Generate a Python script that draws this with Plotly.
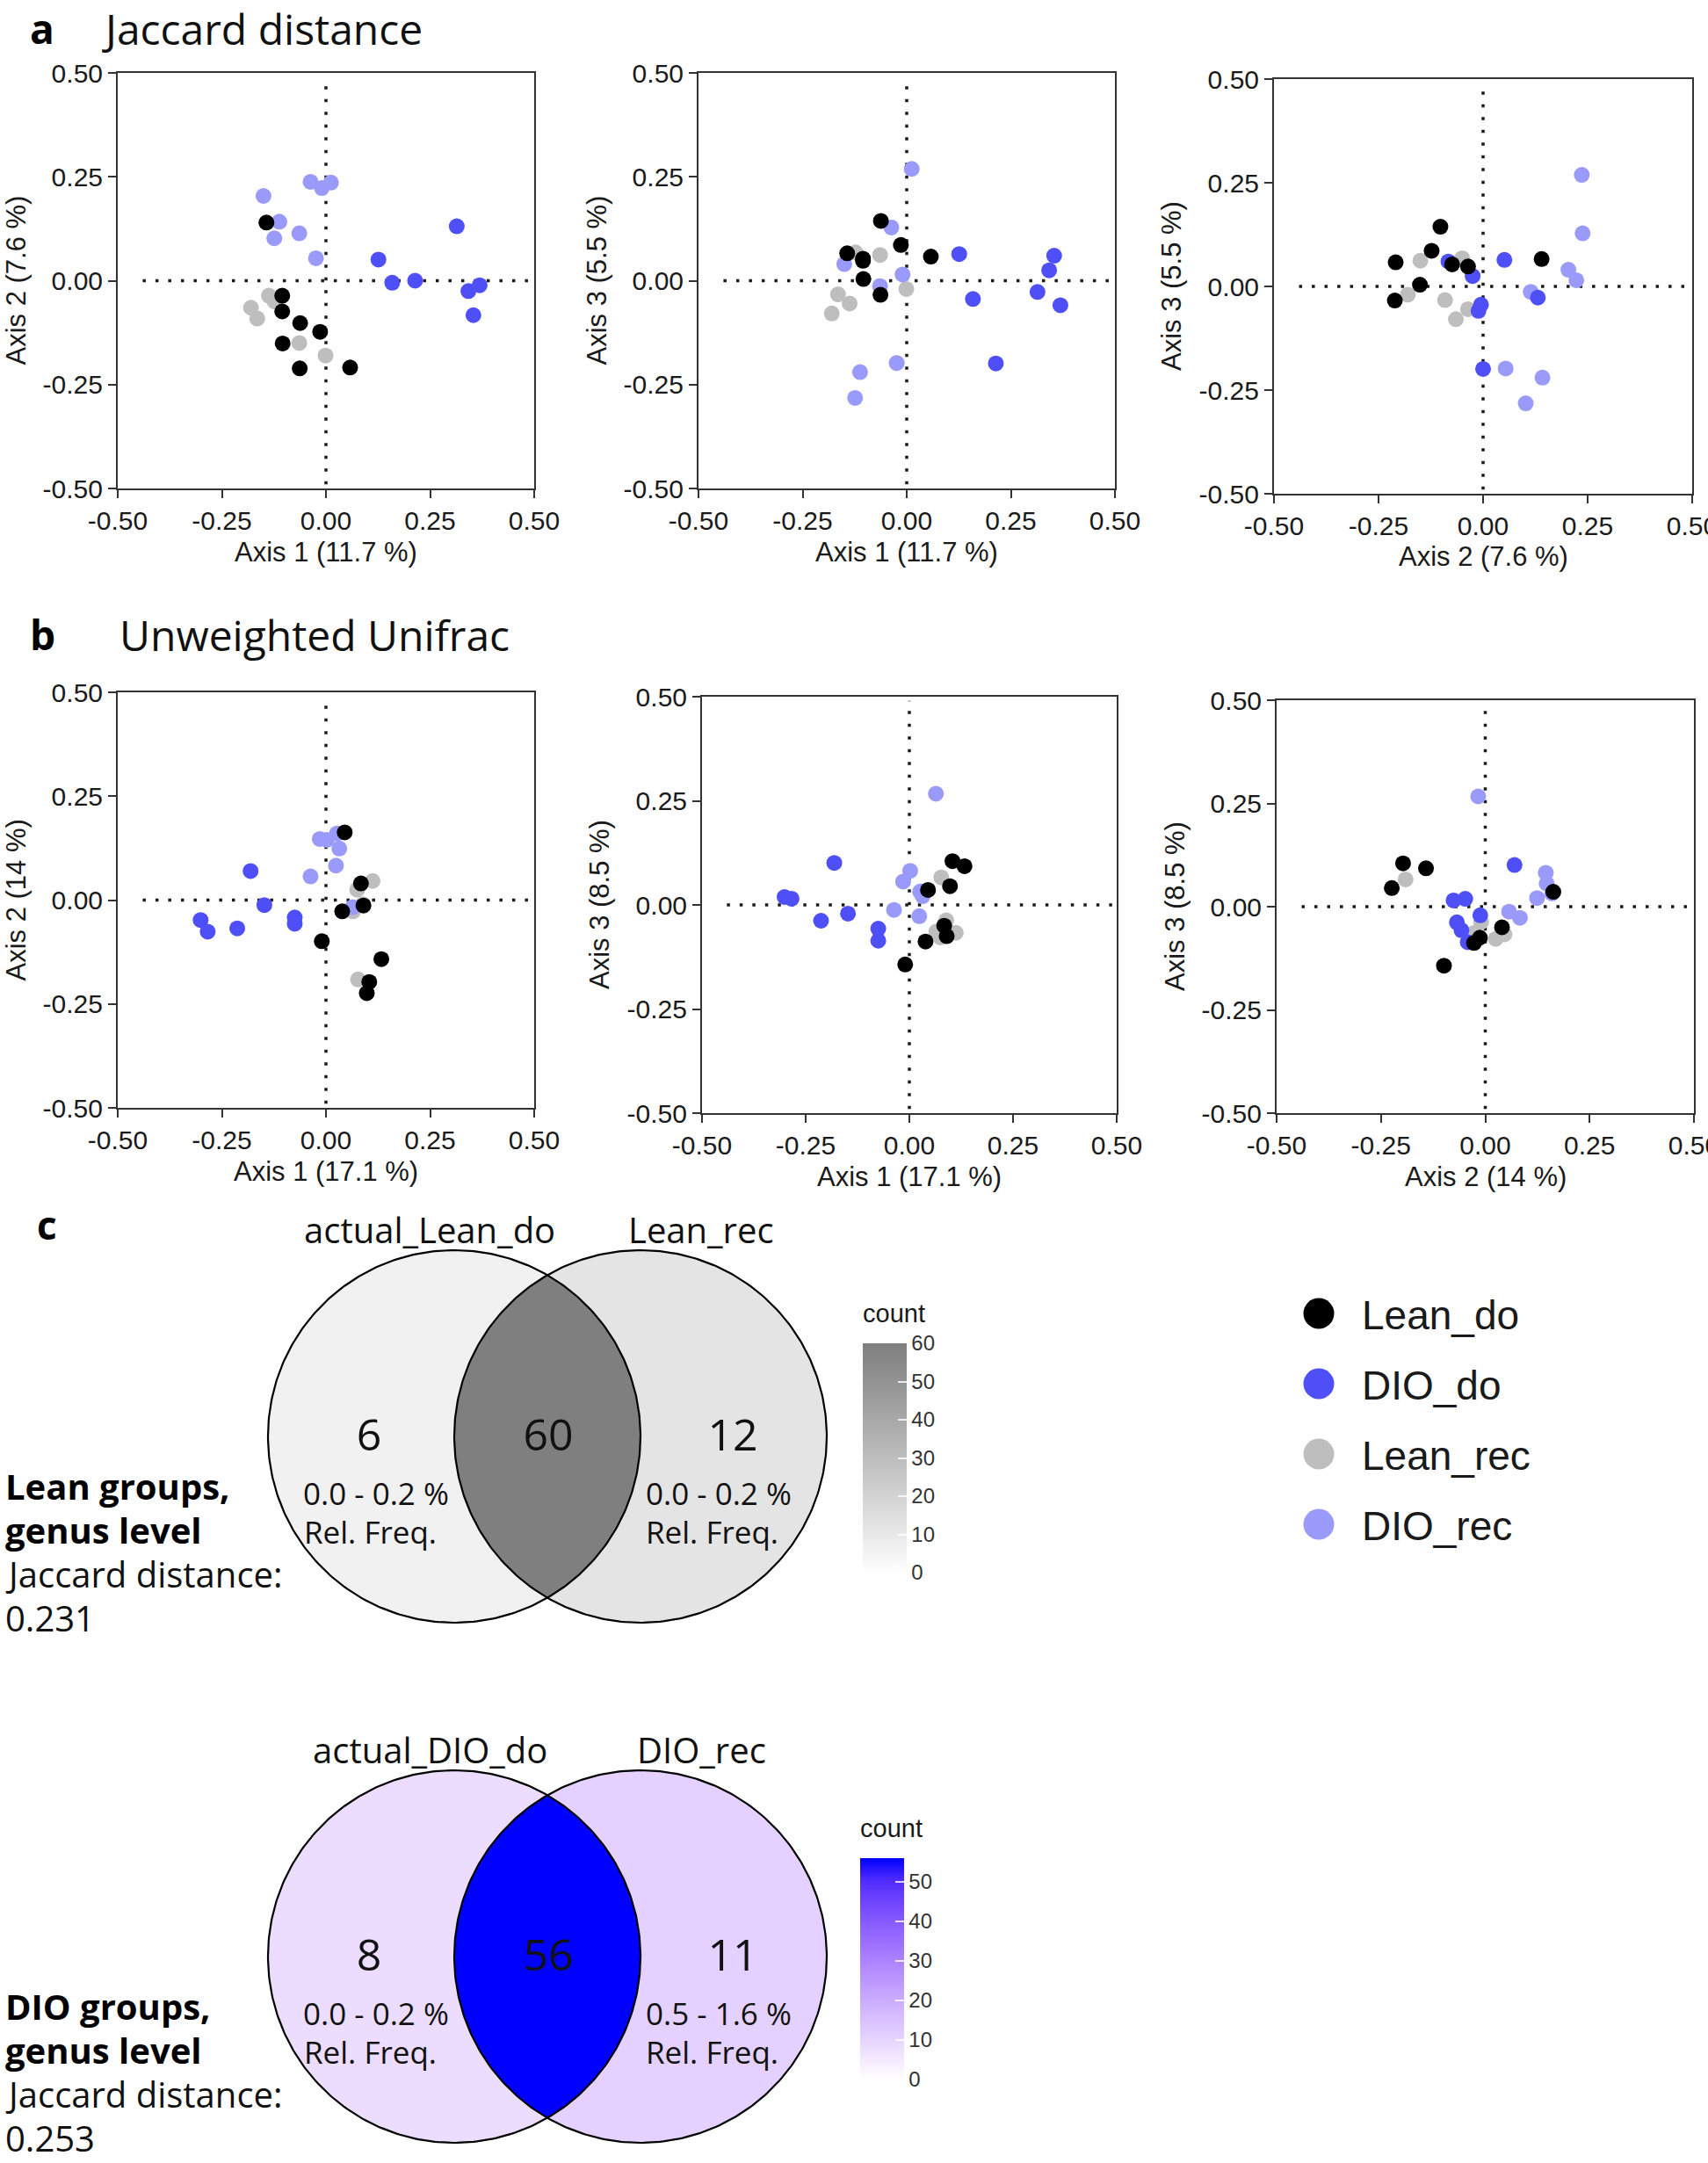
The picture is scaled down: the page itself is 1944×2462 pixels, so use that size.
import numpy as np
import plotly.graph_objects as go

W, H = 1944, 2462

# ---------------- data ----------------
groups = ["Lean_do", "DIO_do", "Lean_rec", "DIO_rec"]
group_colors = ["#000000", "#4f4ff8", "#bebebe", "#9a9afa"]
draw_order = ["Lean_rec", "DIO_rec", "DIO_do", "Lean_do"]

# Jaccard PCoA sample coordinates (Axis 1, Axis 2, Axis 3)
jac_lean_do_ax1 = [-0.143, -0.105, -0.105, -0.062, -0.014, -0.104, -0.063, 0.058]
jac_lean_do_ax2 = [0.140, -0.036, -0.074, -0.102, -0.123, -0.151, -0.211, -0.209]
jac_lean_do_ax3 = [0.066, 0.048, 0.053, 0.144, 0.086, 0.004, -0.034, 0.058]

jac_dio_do_ax1 = [0.314, 0.126, 0.159, 0.214, 0.342, 0.369, 0.354]
jac_dio_do_ax2 = [0.131, 0.051, -0.005, 0.000, -0.025, -0.011, -0.083]
jac_dio_do_ax3 = [-0.027, 0.064, -0.044, -0.199, 0.025, -0.059, 0.060]

jac_lean_rec_ax1 = [-0.137, -0.180, -0.165, -0.123, -0.064, -0.001]
jac_lean_rec_ax2 = [-0.036, -0.065, -0.091, -0.050, -0.150, -0.180]
jac_lean_rec_ax3 = [-0.055, -0.079, -0.033, 0.068, 0.062, -0.020]

jac_dio_rec_ax1 = [-0.150, -0.037, -0.010, 0.012, -0.112, -0.124, -0.064, -0.024]
jac_dio_rec_ax2 = [0.204, 0.238, 0.223, 0.236, 0.142, 0.102, 0.114, 0.054]
jac_dio_rec_ax3 = [0.040, 0.128, 0.015, 0.269, -0.220, -0.282, -0.013, -0.198]

# Unweighted Unifrac PCoA sample coordinates
uni_lean_do_ax1 = [0.045, 0.084, 0.090, 0.039, -0.010, 0.133, 0.104, 0.098]
uni_lean_do_ax2 = [0.163, 0.040, -0.013, -0.027, -0.099, -0.142, -0.197, -0.224]
uni_lean_do_ax3 = [0.036, -0.050, -0.075, -0.088, -0.143, 0.093, 0.105, 0.045]

uni_dio_do_ax1 = [-0.181, -0.148, -0.075, -0.075, -0.301, -0.284, -0.213]
uni_dio_do_ax2 = [0.070, -0.012, -0.042, -0.057, -0.048, -0.076, -0.068]
uni_dio_do_ax3 = [0.101, -0.021, -0.086, -0.057, 0.019, 0.015, -0.038]

uni_lean_rec_ax1 = [0.077, 0.112, 0.065, 0.089, 0.075]
uni_lean_rec_ax2 = [-0.191, 0.046, -0.027, -0.010, 0.025]
uni_lean_rec_ax3 = [0.066, -0.067, -0.064, -0.037, -0.078]

uni_dio_rec_ax1 = [0.026, -0.015, 0.002, 0.032, 0.024, -0.037, 0.064]
uni_dio_rec_ax2 = [0.160, 0.147, 0.145, 0.124, 0.083, 0.057, -0.017]
uni_dio_rec_ax3 = [0.032, 0.056, 0.082, 0.021, -0.027, -0.012, 0.267]

jac_pct = [11.7, 7.6, 5.5]
uni_pct = [17.1, 14, 8.5]

tick_vals = [-0.5, -0.25, 0.0, 0.25, 0.5]
tick_text = ["-0.50", "-0.25", "0.00", "0.25", "0.50"]

# Venn data
lean_sets = ["actual_Lean_do", "Lean_rec"]
lean_counts = [6, 60, 12]           # only A, A&B, only B
lean_freq = ["0.0 - 0.2 %", "0.0 - 0.2 %"]
lean_jacc = 0.231
lean_cbar_max = 60

dio_sets = ["actual_DIO_do", "DIO_rec"]
dio_counts = [8, 56, 11]
dio_freq = ["0.0 - 0.2 %", "0.5 - 1.6 %"]
dio_jacc = 0.253
dio_cbar_max = 56

cbar_ticks_lean = [0, 10, 20, 30, 40, 50, 60]
cbar_ticks_dio = [0, 10, 20, 30, 40, 50]

# ---------------- helpers ----------------
coords = {
    "jac": {
        "Lean_do": [jac_lean_do_ax1, jac_lean_do_ax2, jac_lean_do_ax3],
        "DIO_do": [jac_dio_do_ax1, jac_dio_do_ax2, jac_dio_do_ax3],
        "Lean_rec": [jac_lean_rec_ax1, jac_lean_rec_ax2, jac_lean_rec_ax3],
        "DIO_rec": [jac_dio_rec_ax1, jac_dio_rec_ax2, jac_dio_rec_ax3],
    },
    "uni": {
        "Lean_do": [uni_lean_do_ax1, uni_lean_do_ax2, uni_lean_do_ax3],
        "DIO_do": [uni_dio_do_ax1, uni_dio_do_ax2, uni_dio_do_ax3],
        "Lean_rec": [uni_lean_rec_ax1, uni_lean_rec_ax2, uni_lean_rec_ax3],
        "DIO_rec": [uni_dio_rec_ax1, uni_dio_rec_ax2, uni_dio_rec_ax3],
    },
}
pcts = {"jac": jac_pct, "uni": uni_pct}
color_of = dict(zip(groups, group_colors))


def _lin(c):
    c = c / 255.0
    return np.where(c <= 0.04045, c / 12.92, ((c + 0.055) / 1.055) ** 2.4)


def _delin(c):
    c = np.where(c <= 0.0031308, 12.92 * c, 1.055 * np.clip(c, 0, None) ** (1 / 2.4) - 0.055)
    return np.clip(np.round(c * 255), 0, 255).astype(int)


M = np.array([[0.4124, 0.3576, 0.1805], [0.2126, 0.7152, 0.0722], [0.0193, 0.1192, 0.9505]])
Minv = np.linalg.inv(M)
WHITE = np.array([0.95047, 1.0, 1.08883])


def hex2lab(h):
    rgb = np.array([int(h[i:i + 2], 16) for i in (1, 3, 5)], float)
    xyz = M @ _lin(rgb) / WHITE
    f = np.where(xyz > 0.008856, np.cbrt(xyz), 7.787 * xyz + 16 / 116)
    return np.array([116 * f[1] - 16, 500 * (f[0] - f[1]), 200 * (f[1] - f[2])])


def lab2hex(lab):
    fy = (lab[0] + 16) / 116
    fx = fy + lab[1] / 500
    fz = fy - lab[2] / 200
    f = np.array([fx, fy, fz])
    xyz = np.where(f ** 3 > 0.008856, f ** 3, (f - 16 / 116) / 7.787) * WHITE
    rgb = _delin(Minv @ xyz)
    return "#%02x%02x%02x" % tuple(rgb)


def lab_mix(c0, c1, t):
    return lab2hex(hex2lab(c0) + (hex2lab(c1) - hex2lab(c0)) * t)


def lab_scale(c0, c1, n=11):
    return [[float(t), lab_mix(c0, c1, t)] for t in np.linspace(0, 1, n)]


FONT_AX = "Liberation Sans"
FONT_TX = "Open Sans"

fig = go.Figure()
layout = dict(
    width=W, height=H, margin=dict(l=0, r=0, t=0, b=0, pad=0, autoexpand=False), autosize=False,
    paper_bgcolor="white", plot_bgcolor="rgba(0,0,0,0)", showlegend=False,
    font=dict(family=FONT_AX, color="#1a1a1a"),
)
annotations = []
shapes = []

# panels: metric, x-axis index, y-axis index, plot box (px)
panels = [
    ("jac", 0, 1, (134, 608, 83, 556)),
    ("jac", 0, 2, (795, 1269, 83, 556)),
    ("jac", 1, 2, (1450, 1926, 90, 562)),
    ("uni", 0, 1, (134, 608, 788, 1261)),
    ("uni", 0, 2, (799, 1271, 793, 1267)),
    ("uni", 1, 2, (1453, 1928, 797, 1267)),
]

for k, (metric, ix, iy, (x0, x1, y0, y1)) in enumerate(panels):
    n = "" if k == 0 else str(k + 1)
    axcommon = dict(
        range=[-0.5, 0.5], tickvals=tick_vals, ticktext=tick_text, showgrid=False, zeroline=False,
        showline=True, mirror=True, linecolor="#333333", linewidth=2, ticks="outside", ticklen=9,
        tickwidth=2, tickcolor="#333333", tickfont=dict(size=30, family=FONT_AX, color="#1a1a1a"),
        fixedrange=True, automargin=False, ticklabeloverflow="allow",
    )
    layout["xaxis" + n] = dict(axcommon, domain=[x0 / W, x1 / W], anchor="y" + n)
    layout["yaxis" + n] = dict(axcommon, domain=[1 - y1 / H, 1 - y0 / H], anchor="x" + n)
    for g in draw_order:
        c = coords[metric][g]
        fig.add_trace(go.Scatter(
            x=c[ix], y=c[iy], mode="markers", xaxis="x" + n, yaxis="y" + n,
            marker=dict(size=18, color=color_of[g], line=dict(width=0)), name=g,
            hoverinfo="skip",
        ))
    dot = dict(color="#1a1a1a", width=3.5, dash="3.5px,11px")
    shapes.append(dict(type="line", xref="x" + n, yref="y" + n, x0=0, x1=0, y0=-0.49, y1=0.49,
                       line=dot, layer="below"))
    shapes.append(dict(type="line", xref="x" + n, yref="y" + n, x0=-0.44, x1=0.5, y0=0, y1=0,
                       line=dot, layer="below"))
    pc = pcts[metric]
    annotations.append(dict(
        text=f"Axis {ix + 1} ({pc[ix]:g} %)", xref="paper", yref="paper",
        x=(x0 + x1) / 2 / W, y=1 - (y1 + 72) / H, showarrow=False,
        font=dict(size=31, family=FONT_AX, color="#1a1a1a"), xanchor="center", yanchor="middle"))
    annotations.append(dict(
        text=f"Axis {iy + 1} ({pc[iy]:g} %)", xref="paper", yref="paper",
        x=(x0 - 116) / W, y=1 - (y0 + y1) / 2 / H, showarrow=False, textangle=-90,
        font=dict(size=31, family=FONT_AX, color="#1a1a1a"), xanchor="center", yanchor="middle"))

# pixel overlay axis for the Venn diagrams and legend
layout["xaxis7"] = dict(domain=[0, 1], range=[0, W], visible=False, fixedrange=True, anchor="y7")
layout["yaxis7"] = dict(domain=[0, 1], range=[H, 0], visible=False, fixedrange=True, anchor="x7")


def ann_px(text, x, y, size, family=FONT_TX, xanchor="center", bold=False, color="#111111"):
    annotations.append(dict(
        text=f"<b>{text}</b>" if bold else text, x=x, y=y, xref="x7", yref="y7", showarrow=False,
        xanchor=xanchor, yanchor="middle", font=dict(size=size, family=family, color=color)))


# panel titles
ann_px("a", 32, 32, 46, bold=True, xanchor="left", color="#000000")
ann_px("Jaccard distance", 114, 32, 48, xanchor="left", color="#111111")
ann_px("b", 32, 722, 46, bold=True, xanchor="left", color="#000000")
ann_px("Unweighted Unifrac", 134, 722, 48, xanchor="left", color="#111111")
ann_px("c", 40, 1394, 44, bold=True, xanchor="left", color="#000000")


def venn(sets, counts, freq, jacc, label, cy, c_hi, cmax, cticks, cbar_top, cbar_x, per10):
    r = 212.0
    cx1, cx2 = 517.0, 729.0
    scale = lab_scale("#ffffff", c_hi)
    fills = [lab_mix("#ffffff", c_hi, v / cmax) for v in counts]
    th = np.linspace(0, 2 * np.pi, 361)
    for cx, fc in ((cx1, fills[0]), (cx2, fills[2])):
        fig.add_trace(go.Scatter(x=cx + r * np.cos(th), y=cy + r * np.sin(th), mode="lines",
                                 fill="toself", fillcolor=fc, line=dict(width=0), xaxis="x7",
                                 yaxis="y7", hoverinfo="skip"))
    a = (cx2 - cx1) / 2
    al = np.arccos(a / r)
    t1 = np.linspace(-al, al, 120)
    t2 = np.linspace(np.pi - al, np.pi + al, 120)
    lx = np.concatenate([cx1 + r * np.cos(t1), cx2 + r * np.cos(t2)])
    ly = np.concatenate([cy + r * np.sin(t1), cy + r * np.sin(t2)])
    fig.add_trace(go.Scatter(x=lx, y=ly, mode="lines", fill="toself", fillcolor=fills[1],
                             line=dict(width=0), xaxis="x7", yaxis="y7", hoverinfo="skip"))
    for cx in (cx1, cx2):
        fig.add_trace(go.Scatter(x=cx + r * np.cos(th), y=cy + r * np.sin(th), mode="lines",
                                 line=dict(width=2.2, color="#000000"), xaxis="x7", yaxis="y7",
                                 hoverinfo="skip"))
    # counts + colourbar
    nx = [420, 624, 834]
    fig.add_trace(go.Scatter(
        x=nx, y=[cy + 3] * 3, mode="markers+text", text=[str(v) for v in counts],
        textposition="middle center", textfont=dict(size=50, family=FONT_TX, color="#111111"),
        xaxis="x7", yaxis="y7", hoverinfo="skip",
        marker=dict(size=1, color=counts, colorscale=scale, cmin=0, cmax=cmax, showscale=True,
                    colorbar=dict(
                        x=cbar_x / W, xanchor="left", y=1 - cbar_top / H, yanchor="top",
                        len=cmax * per10 / 10.0, lenmode="pixels", thickness=50,
                        thicknessmode="pixels", outlinewidth=0, xpad=0, ypad=0,
                        tickvals=cticks, ticks="inside", ticklen=10, tickwidth=2,
                        tickcolor="rgba(255,255,255,0.8)",
                        tickfont=dict(size=24, family=FONT_AX, color="#333333"),
                    ))))
    ann_px("count", cbar_x - 2, cbar_top - 34, 29, family=FONT_AX, xanchor="left", color="#1a1a1a")
    # set labels
    ann_px(sets[0], 489, cy - 236, 40)
    ann_px(sets[1], 798, cy - 236, 40)
    # rel. freq
    ann_px(freq[0], 428, cy + 64, 35)
    ann_px("Rel. Freq.", 421, cy + 108, 35)
    ann_px(freq[1], 818, cy + 64, 35)
    ann_px("Rel. Freq.", 810, cy + 108, 35)
    # side text
    ann_px(f"{label} groups,", 4, cy + 56, 40, bold=True, xanchor="left", color="#000000")
    ann_px("genus level", 4, cy + 106, 40, bold=True, xanchor="left", color="#000000")
    ann_px("Jaccard distance:", 4, cy + 156, 40, xanchor="left", color="#111111")
    ann_px(f"{jacc:.3f}", 4, cy + 206, 40, xanchor="left", color="#111111")


venn(lean_sets, lean_counts, lean_freq, lean_jacc, "Lean", 1635, "#7f7f7f", lean_cbar_max,
     cbar_ticks_lean, 1529, 982, 43.5)
venn(dio_sets, dio_counts, dio_freq, dio_jacc, "DIO", 2227, "#0000ff", dio_cbar_max,
     cbar_ticks_dio, 2115, 979, 45.0)

# legend
leg_y = [1495 + 80 * i for i in range(len(groups))]
fig.add_trace(go.Scatter(x=[1501] * len(groups), y=leg_y, mode="markers", xaxis="x7", yaxis="y7",
                         marker=dict(size=35, color=group_colors, line=dict(width=0)),
                         hoverinfo="skip"))
for g, yy in zip(groups, leg_y):
    ann_px(g, 1548, yy + 2, 46, family=FONT_AX, xanchor="left", color="#1a1a1a")

layout["annotations"] = annotations
layout["shapes"] = shapes
fig.update_layout(**layout)
fig.write_html("out.html", config={"displayModeBar": False, "staticPlot": True},
               post_script="document.body.style.margin='0px';document.body.style.overflow='hidden';")
